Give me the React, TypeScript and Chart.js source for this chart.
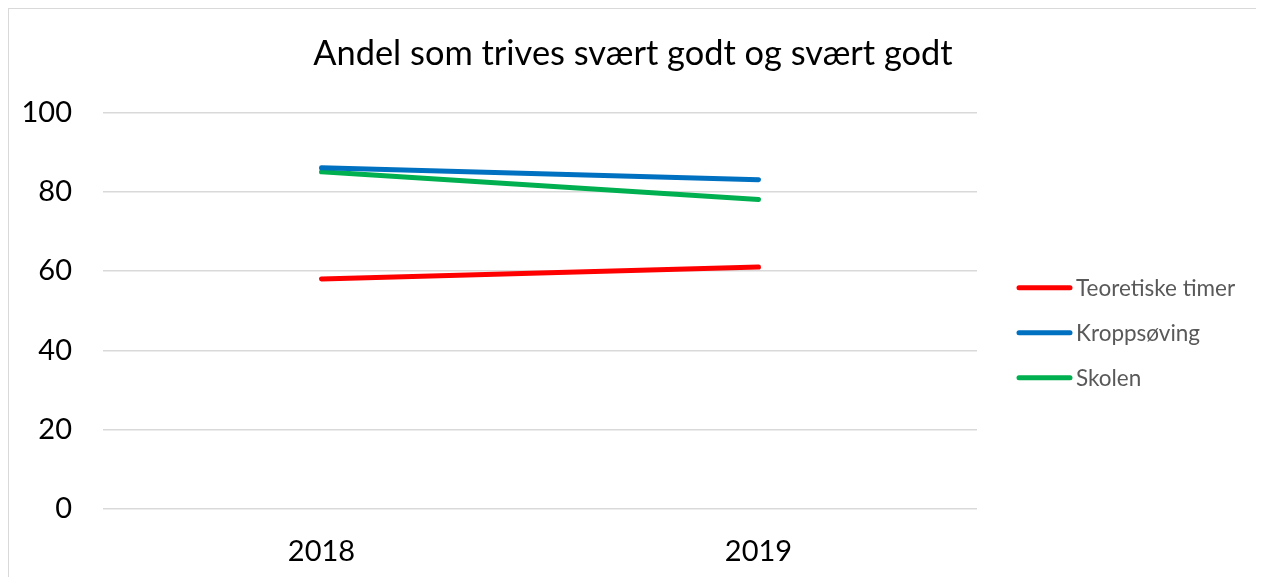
import React, { useEffect, useRef } from "react";
import { Chart, registerables } from "chart.js";

Chart.register(...registerables);

const titleText = "Andel som trives svært godt og svært godt";
const categories = ["2018", "2019"];
const teoretiskeTimer = [58, 61];
const kroppsoving = [86, 83];
const skolen = [85, 78];
const seriesNames = ["Teoretiske timer", "Kroppsøving", "Skolen"];
const seriesColors = ["#FF0000", "#0070C0", "#00B050"];
const yMin = 0;
const yMax = 100;
const yStep = 20;

const FONT = "Lato, 'Open Sans', sans-serif";

const sideLegend = {
  id: "sideLegend",
  afterDraw(chart: any) {
    const { ctx, chartArea } = chart;
    const x0 = chartArea.right + 40;
    const cy = (chartArea.top + chartArea.bottom) / 2 + 22;
    const n = chart.data.datasets.length;
    chart.data.datasets.forEach((ds: any, i: number) => {
      const y = cy + (i - (n - 1) / 2) * 45;
      ctx.save();
      ctx.strokeStyle = ds.borderColor;
      ctx.lineWidth = 5;
      ctx.lineCap = "round";
      ctx.beginPath();
      ctx.moveTo(x0 + 2, y);
      ctx.lineTo(x0 + 53, y);
      ctx.stroke();
      ctx.fillStyle = "#595959";
      ctx.font = `22.5px ${FONT}`;
      ctx.textBaseline = "middle";
      ctx.textAlign = "left";
      ctx.fillText(ds.label, x0 + 59, y + 1);
      ctx.restore();
    });
  },
};

export default function App() {
  const ref = useRef<HTMLCanvasElement | null>(null);

  useEffect(() => {
    if (!ref.current) return;
    const seriesValues = [teoretiskeTimer, kroppsoving, skolen];
    const chart = new Chart(ref.current, {
      type: "line",
      data: {
        labels: categories,
        datasets: seriesValues.map((vals, i) => ({
          label: seriesNames[i],
          data: vals,
          borderColor: seriesColors[i],
          backgroundColor: seriesColors[i],
          borderWidth: 5,
          borderCapStyle: "round" as const,
          pointRadius: 0,
          pointHoverRadius: 0,
          tension: 0,
          fill: false,
        })),
      },
      options: {
        responsive: false,
        animation: false,
        devicePixelRatio: 1,
        layout: { padding: 0 },
        plugins: {
          legend: { display: false },
          tooltip: { enabled: false },
          title: {
            display: true,
            text: titleText,
            color: "#000000",
            font: { family: FONT, size: 34.4, weight: "normal" as any, lineHeight: 1.2 },
            padding: { top: 24, bottom: 38 },
          },
        },
        scales: {
          x: {
            offset: true,
            grid: { display: false, drawTicks: false },
            border: { display: false },
            ticks: {
              color: "#000000",
              font: { family: FONT, size: 29 },
              padding: 25,
            },
            afterFit: (s: any) => {
              s.height = 68;
            },
          },
          y: {
            min: yMin,
            max: yMax,
            ticks: {
              stepSize: yStep,
              color: "#000000",
              font: { family: FONT, size: 29 },
              padding: 31,
            },
            grid: { color: "#D9D9D9", lineWidth: 1.5, drawTicks: false },
            border: { display: false },
            afterFit: (s: any) => {
              s.width = 94;
            },
          },
          yR: {
            position: "right",
            display: true,
            grid: { display: false, drawTicks: false },
            border: { display: false },
            ticks: { display: false },
            afterFit: (s: any) => {
              s.width = 280;
            },
          },
        },
      },
      plugins: [sideLegend],
    });
    return () => chart.destroy();
  }, []);

  return (
    <div
      style={{
        width: 1248,
        height: 590,
        border: "1px solid #D9D9D9",
        background: "#fff",
      }}
    >
      <canvas ref={ref} width={1248} height={568} style={{ display: "block", width: 1248, height: 568 }} />
    </div>
  );
}
